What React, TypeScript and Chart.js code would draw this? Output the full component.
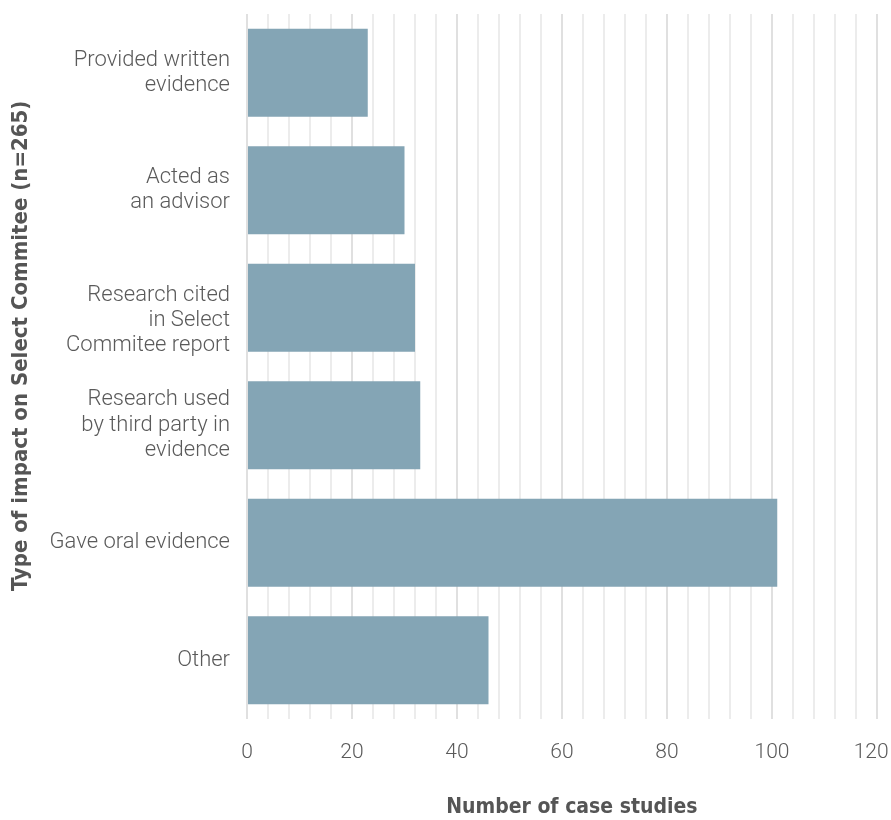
import React, { useEffect, useRef } from "react";
import { Chart, registerables } from "chart.js";

Chart.register(...registerables);

const categories: string[][] = [
  ["Provided written", "evidence"],
  ["Acted as", "an advisor"],
  ["", "Research cited", "in Select", "Commitee report"],
  ["Research used", "by third party in", "evidence"],
  ["Gave oral evidence"],
  ["Other"],
];
const values: number[] = [23, 30, 32, 33, 101, 46];
const xTitle = "   Number of case studies";
const yTitle = "      Type of impact on Select Commitee (n=265)";

const titleFont = "'Liberation Sans Narrow', 'DejaVu Sans Condensed', sans-serif";

export default function App() {
  const ref = useRef<HTMLCanvasElement>(null);
  useEffect(() => {
    if (!ref.current) return;
    const chart = new Chart(ref.current, {
      type: "bar",
      data: {
        labels: categories,
        datasets: [
          {
            data: values,
            backgroundColor: "#84a5b5",
            borderWidth: 0,
            barPercentage: 0.75,
            categoryPercentage: 1,
          },
        ],
      },
      options: {
        indexAxis: "y",
        animation: false,
        responsive: false,
        maintainAspectRatio: false,
        layout: { padding: { top: 14, right: 14, bottom: 0, left: 8 } },
        plugins: { legend: { display: false }, tooltip: { enabled: false } },
        scales: {
          x: {
            min: 0,
            max: 120,
            border: { display: false },
            afterFit: (s: any) => {
              s.paddingLeft = 0;
              s.paddingRight = 0;
              s.height = 101;
            },
            ticks: {
              stepSize: 4,
              autoSkip: false,
              maxRotation: 0,
              color: "#5a5a5a",
              font: { family: "Roboto", size: 21, weight: "300" },
              padding: 21,
              callback: (v: any) => {
                const n = Number(v);
                if (n % 20 !== 0) return "";
                return n === 120 ? "120\u2007" : String(n);
              },
            },
            grid: {
              color: (ctx: any) => (ctx.tick && ctx.tick.value % 20 === 0 ? "#e0e0e0" : "#ececec"),
              lineWidth: 2,
              drawTicks: false,
            },
            title: {
              display: true,
              text: xTitle,
              color: "#555",
              font: { family: titleFont, size: 21, weight: "bold" },
              padding: { top: 0, bottom: 0 },
            },
          },
          y: {
            border: { display: false },
            afterFit: (s: any) => {
              s.paddingTop = 0;
              s.paddingBottom = 0;
              s.width = 239;
            },
            grid: { display: false, drawTicks: false },
            ticks: {
              color: "#5a5a5a",
              font: { family: "Roboto", size: 22, weight: "300", lineHeight: 1.15 },
              padding: 17,
            },
            title: {
              display: true,
              text: yTitle,
              color: "#555",
              font: { family: titleFont, size: 22, weight: "bold" },
              padding: { top: 0, bottom: 0 },
            },
          },
        },
      },
    });
    return () => chart.destroy();
  }, []);
  return (
    <div style={{ position: "absolute", left: 0, top: 0, width: 891, height: 820, background: "#fff" }}>
      <canvas ref={ref} width={891} height={820} style={{ width: 891, height: 820 }} />
    </div>
  );
}
